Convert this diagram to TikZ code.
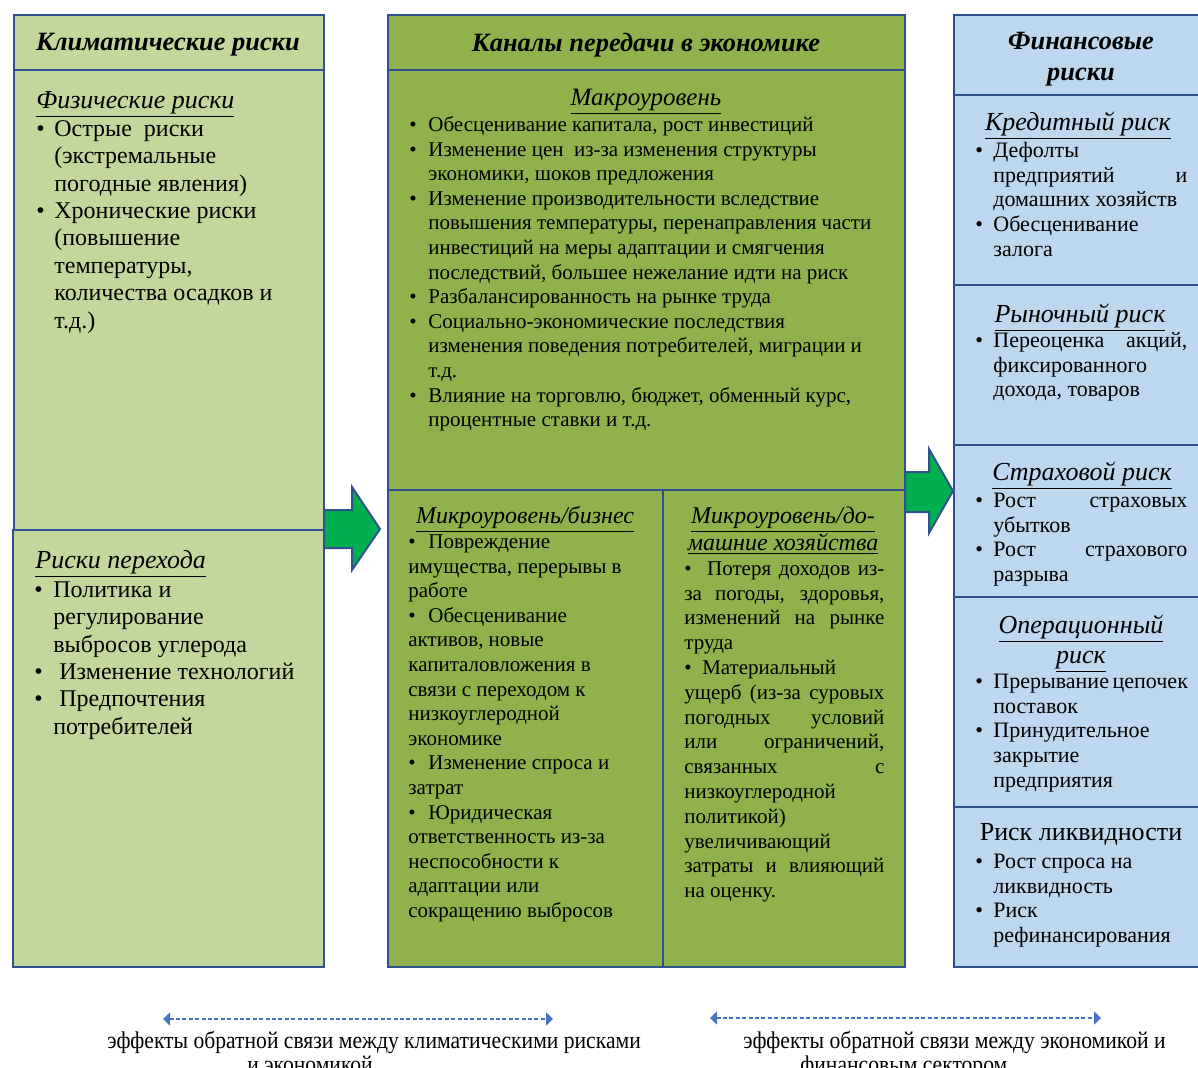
\documentclass[tikz,border=0pt]{standalone}
\usepackage{fontspec}
\setmainfont{Liberation Serif}
\newfontfamily\legendfont[FakeStretch=0.9]{Liberation Serif}
\usetikzlibrary{arrows.meta}
\definecolor{climgreen}{RGB}{195,214,155}
\definecolor{econgreen}{RGB}{143,178,76}
\definecolor{finblue}{RGB}{189,215,238}
\definecolor{frameblue}{RGB}{47,82,143}
\definecolor{arrowgreen}{RGB}{0,176,80}
\definecolor{fbblue}{RGB}{68,114,196}
% bullet box, indent and stretched line
\newcommand{\blt}[1][9pt]{\makebox[#1][l]{\textbullet}}
\newcommand{\itind}[1][9pt]{\hspace*{#1}}
\newcommand{\jst}[2]{\makebox[#1][s]{#2}}

\begin{document}
\begin{tikzpicture}[x=0.5pt,y=-0.5pt,
  frame/.style={draw=frameblue, line width=1.2pt},
  blockarrow/.style={draw=frameblue, line width=1pt, fill=arrowgreen},
  fbarrow/.style={fbblue, line width=0.8pt, dash pattern=on 2pt off 1.2pt,
    {Triangle[length=3.5pt,width=6.5pt]}-{Triangle[length=3.5pt,width=6.5pt]}},
  boxtitle/.style={font=\fontsize{13.2}{15.5}\selectfont\bfseries\itshape, inner sep=0pt, anchor=base},
  subhead/.style={font=\fontsize{13}{15}\selectfont\itshape, inner sep=0pt},
  txt/.style={inner sep=0pt, anchor=north west, align=left},
  legend/.style={font=\legendfont\fontsize{12}{9.5}\selectfont, inner sep=0pt, anchor=north west, align=left}]
  \useasboundingbox (0,0) rectangle (1198,1067);

  % columns
  \fill[climgreen] (14,15) rectangle (324,967);
  \draw[frame] (14,15) rectangle (324,70);
  \draw[frame] (14,70) rectangle (324,530);
  \draw[frame] (13,530) rectangle (324,967);

  \fill[econgreen] (388,15) rectangle (905,967);
  \draw[frame] (388,15) rectangle (905,70);
  \draw[frame] (388,70) rectangle (905,490);
  \draw[frame] (388,490) rectangle (663,967);
  \draw[frame] (663,490) rectangle (905,967);

  \fill[finblue] (954,15) rectangle (1212,967);
  \foreach \ya/\yb in {15/95,95/285,285/445,445/597,597/807,807/967}
    \draw[frame] (954,\ya) rectangle (1212,\yb);

  % block arrows
  \coordinate (climout) at (324,529);
  \coordinate (econout) at (905,491);
  \draw[blockarrow] (climout) ++(0,-19) -- ++(28,0) -- ++(0,-23) -- (380,529)
    -- (352,570) -- ++(0,-22) -- ++(-28,0) -- cycle;
  \draw[blockarrow] (econout) ++(0,-19) -- ++(24,0) -- ++(0,-23) -- (953,491)
    -- (929,533) -- ++(0,-21) -- ++(-24,0) -- cycle;

  % climate risks
  \node[boxtitle] (climtitle) at (168,50) {Климатические риски};
  \node[subhead, anchor=base west] (physhead) at (36,108) {\underline{Физические риски}};
  \node[txt, font=\fontsize{12}{13.7}\selectfont] (physlist) at (36,116.8) {\strut\blt Острые\ \ риски\\
    \itind(экстремальные\\
    \itind погодные явления)\\
    \blt Хронические риски\\
    \itind(повышение\\
    \itind температуры,\\
    \itind количества осадков и\\
    \itind т.д.)};
  \node[subhead, anchor=base west] (transhead) at (35,568) {\underline{Риски перехода}};
  \node[txt, font=\fontsize{12}{13.7}\selectfont] (translist) at (34,577.8) {\strut\blt[9.5pt]Политика и\\
    \itind[9.5pt]регулирование\\
    \itind[9.5pt]выбросов углерода\\
    \blt[9.5pt]\ Изменение технологий\\
    \blt[9.5pt]\ Предпочтения\\
    \itind[9.5pt]потребителей};

  % transmission channels
  \node[boxtitle] (econtitle) at (646,51) {Каналы передачи в экономике};
  \node[subhead, font=\fontsize{12.5}{15}\selectfont\itshape, anchor=base] (macrohead) at (646,105) {\underline{Макроуровень}};
  \node[txt, font=\fontsize{10.5}{12.3}\selectfont] (macrolist) at (409,113.8) {\strut\blt[9.5pt]Обесценивание капитала, рост инвестиций\\
    \blt[9.5pt]Изменение цен\ \ из-за изменения структуры\\
    \itind[9.5pt]экономики, шоков предложения\\
    \blt[9.5pt]Изменение производительности вследствие\\
    \itind[9.5pt]повышения температуры, перенаправления части\\
    \itind[9.5pt]инвестиций на меры адаптации и смягчения\\
    \itind[9.5pt]последствий, большее нежелание идти на риск\\
    \blt[9.5pt]Разбалансированность на рынке труда\\
    \blt[9.5pt]Социально-экономические последствия\\
    \itind[9.5pt]изменения поведения потребителей, миграции и\\
    \itind[9.5pt]т.д.\\
    \blt[9.5pt]Влияние на торговлю, бюджет, обменный курс,\\
    \itind[9.5pt]процентные ставки и т.д.};
  \node[subhead, font=\fontsize{12}{15}\selectfont\itshape, anchor=base] (bizhead) at (525,523) {\underline{Микроуровень/бизнес}};
  \node[txt, font=\fontsize{10.5}{12.3}\selectfont] (bizlist) at (408,530.8) {\strut\blt[10pt]Повреждение\\
    имущества, перерывы в\\
    работе\\
    \blt[10pt]Обесценивание\\
    активов, новые\\
    капиталовложения в\\
    связи с переходом к\\
    низкоуглеродной\\
    экономике\\
    \blt[10pt]Изменение спроса и\\
    затрат\\
    \blt[10pt]Юридическая\\
    ответственность из-за\\
    неспособности к\\
    адаптации или\\
    сокращению выбросов};
  \node[subhead, font=\fontsize{12}{13.5}\selectfont\itshape, anchor=base, align=center] (hhhead) at (783,550) {\underline{Микроуровень/до-}\\[-0.3pt]\underline{машние хозяйства}};
  \node[txt, font=\fontsize{10.5}{12.4}\selectfont] (hhlist) at (684,557.6) {\strut\jst{100pt}{\textbullet\ \ Потеря доходов из-}\\
    \jst{100pt}{за погоды, здоровья,}\\
    \jst{100pt}{изменений на рынке}\\
    труда\\
    \textbullet\ \ Материальный\\
    \jst{100pt}{ущерб (из-за суровых}\\
    \jst{100pt}{погодных условий}\\
    \jst{100pt}{или ограничений,}\\
    \jst{100pt}{связанных с}\\
    низкоуглеродной\\
    политикой)\\
    увеличивающий\\
    \jst{100pt}{затраты и влияющий}\\
    на оценку.};

  % financial risks
  \node[boxtitle, align=center, anchor=north] (fintitle) at (1081,32) {Финансовые\\риски};
  \node[subhead, anchor=base] (credhead) at (1078,130) {\underline{Кредитный риск}};
  \node[txt, font=\fontsize{11}{12.4}\selectfont] (credlist) at (975,139.6) {\strut\blt Дефолты\\
    \itind\jst{97pt}{предприятий\hfill и}\\
    \itind домашних хозяйств\\
    \blt Обесценивание\\
    \itind залога};
  \node[subhead, anchor=base] (markhead) at (1080,322) {\underline{Рыночный риск}};
  \node[txt, font=\fontsize{11}{12.4}\selectfont] (marklist) at (975,329.6) {\strut\blt\jst{97pt}{Переоценка акций,}\\
    \itind фиксированного\\
    \itind дохода, товаров};
  \node[subhead, anchor=base] (inshead) at (1082,480) {\underline{Страховой риск}};
  \node[txt, font=\fontsize{11}{12.4}\selectfont] (inslist) at (975,489.6) {\strut\blt\jst{97pt}{Рост страховых}\\
    \itind убытков\\
    \blt\jst{97pt}{Рост страхового}\\
    \itind разрыва};
  \node[subhead, anchor=base, align=center] (ophead) at (1081,663) {\underline{Операционный}\\\underline{риск}};
  \node[txt, font=\fontsize{11}{12.4}\selectfont] (oplist) at (975,670.6) {\strut\blt\jst{97pt}{Прерывание цепочек}\\
    \itind поставок\\
    \blt Принудительное\\
    \itind закрытие\\
    \itind предприятия};
  \node[font=\fontsize{13}{15}\selectfont, inner sep=0pt, anchor=base] (liqhead) at (1081,840) {Риск ликвидности};
  \node[txt, font=\fontsize{11}{12.4}\selectfont] (liqlist) at (975,850.6) {\strut\blt Рост спроса на\\
    \itind ликвидность\\
    \blt Риск\\
    \itind рефинансирования};

  % feedback legend
  \coordinate (fbclimL) at (163,1019);
  \coordinate (fbclimR) at (553,1019);
  \coordinate (fbfinL) at (710,1018);
  \coordinate (fbfinR) at (1101,1018);
  \draw[fbarrow] (fbclimL) -- (fbclimR);
  \draw[fbarrow] (fbfinL) -- (fbfinR);
  \node[legend] (fbclim) at (107,1030) {\rule{0pt}{9pt}эффекты обратной связи между климатическими рисками\\
    \hspace*{70pt}и экономикой};
  \node[legend] (fbfin) at (743,1030) {\rule{0pt}{9pt}эффекты обратной связи между экономикой и\\
    \hspace*{28.5pt}финансовым сектором};
\end{tikzpicture}
\end{document}
